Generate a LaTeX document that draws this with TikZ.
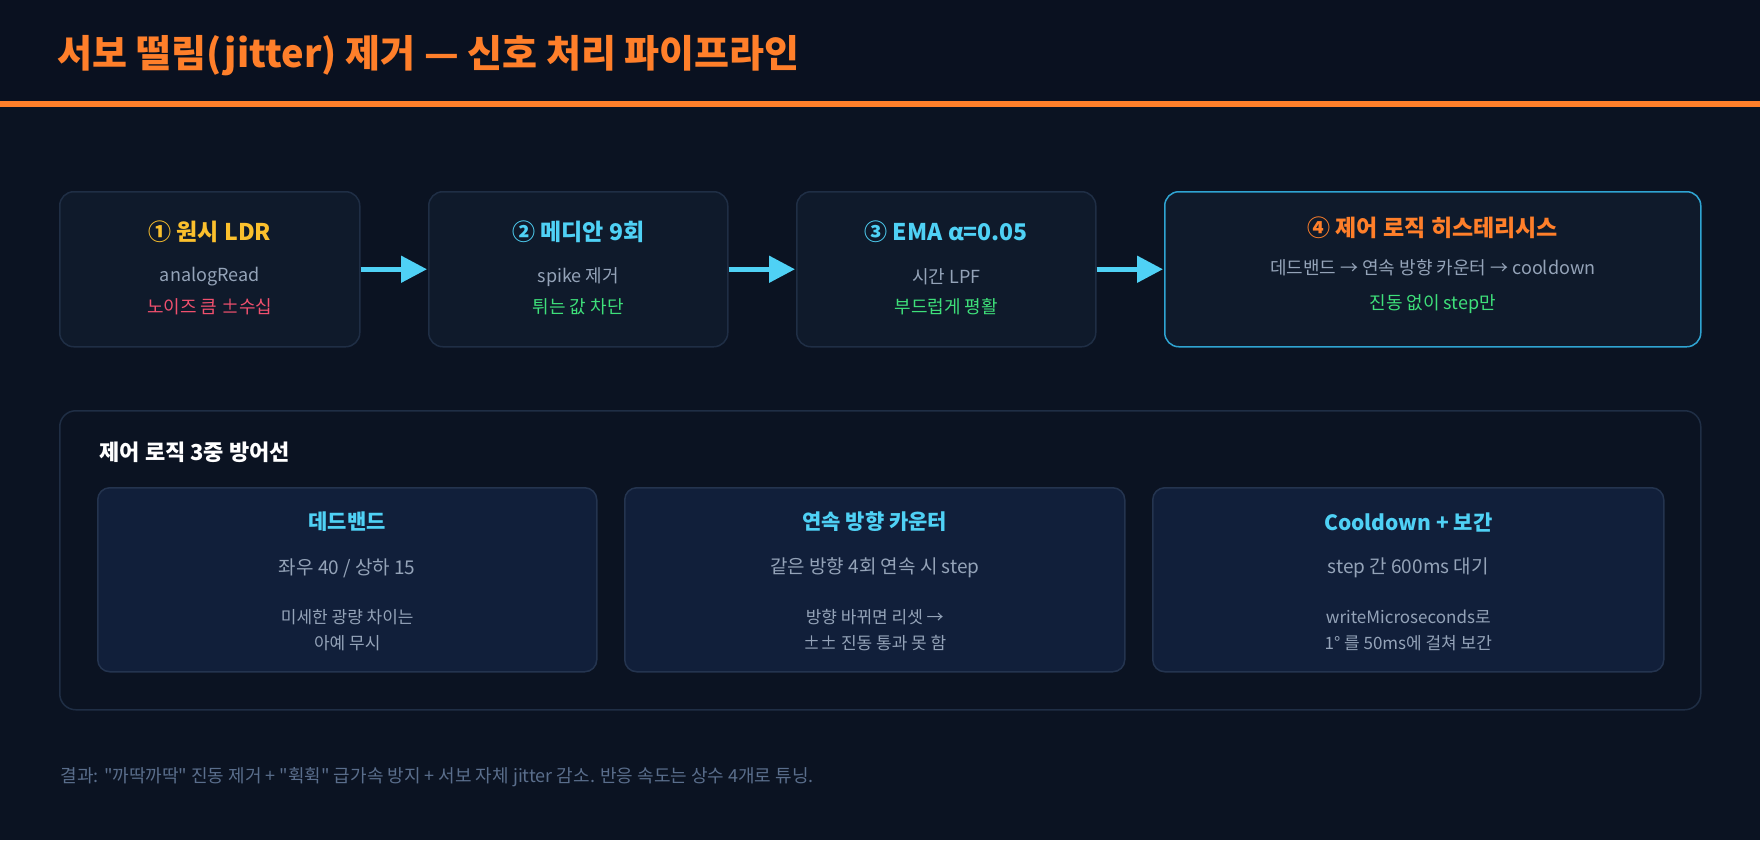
\documentclass[tikz,border=0pt]{standalone}
\usepackage{fontspec}
\setmainfont{Noto Sans CJK KR}
\usetikzlibrary{arrows.meta,positioning}
\definecolor{bgc}{HTML}{0B1322}
\definecolor{barc}{HTML}{0A1120}
\definecolor{orangec}{HTML}{FF7F2A}
\definecolor{boxf}{HTML}{0F1A2B}
\definecolor{boxd}{HTML}{1F2E45}
\definecolor{subf}{HTML}{111F3A}
\definecolor{subd}{HTML}{24344F}
\definecolor{cyanc}{HTML}{4FD1F5}
\definecolor{cyand}{HTML}{2FA4D2}
\definecolor{yelc}{HTML}{FBC02D}
\definecolor{redc}{HTML}{F0506E}
\definecolor{greenc}{HTML}{3EE07A}
\definecolor{grayc}{HTML}{94A3B8}
\definecolor{footc}{HTML}{5A6E8C}
\newcommand{\fs}[1]{\fontsize{#1}{#1}\selectfont}
\newcommand{\qq}{\XeTeXglyph\XeTeXcharglyph"22\relax}
\tikzset{
  stage/.style={draw=boxd,line width=1.5pt,fill=boxf,rounded corners=14pt,minimum height=155pt,anchor=north west,inner sep=0pt},
  sub/.style={draw=subd,line width=1.5pt,fill=subf,rounded corners=12pt,minimum height=184pt,anchor=north west,inner sep=0pt},
  head/.style={font=\fs{23}\bfseries},
  txt/.style={font=\fs{18},text=grayc},
  flow/.style={-{Triangle[length=26pt,width=26pt]},line width=5pt,draw=cyanc,shorten >=1pt}
}
\begin{document}
\begin{tikzpicture}[x=1pt,y=-1pt]
\fill[bgc] (0,0) rectangle (1760,840);
\fill[barc] (0,0) rectangle (1760,102);
\fill[orangec] (0,101) rectangle (1760,107);
\node[anchor=west,text=orangec,font=\fs{38}\bfseries] (title) at (54,56) {서보 떨림(jitter) 제거 — 신호 처리 파이프라인};

% pipeline
\node[stage,minimum width=300pt] (s1) at (59,191) {};
\node[stage,minimum width=299pt] (s2) at (428,191) {};
\node[stage,minimum width=299pt] (s3) at (796,191) {};
\node[stage,minimum width=536pt,draw=cyand] (s4) at (1164,191) {};
\draw[flow] (s1) -- (s2);
\draw[flow] (s2) -- (s3);
\draw[flow] (s3) -- (s4);

\node[head,text=yelc] (h1) at (s1.center |- 0,232) {① 원시 LDR};
\node[txt] (a1) at (s1.center |- 0,277) {analogRead};
\node[txt,text=redc] (b1) at (s1.center |- 0,307) {노이즈 큼 ±수십};
\node[head,text=cyanc] (h2) at (s2.center |- 0,232) {② 메디안 9회};
\node[txt] (a2) at (s2.center |- 0,277) {spike 제거};
\node[txt,text=greenc] (b2) at (s2.center |- 0,307) {튀는 값 차단};
\node[head,text=cyanc] (h3) at (s3.center |- 0,232) {③ EMA α=0.05};
\node[txt] (a3) at (s3.center |- 0,277) {시간 LPF};
\node[txt,text=greenc] (b3) at (s3.center |- 0,307) {부드럽게 평활};
\node[head,text=orangec] (h4) at (s4.center |- 0,228) {④ 제어 로직 히스테리시스};
\node[txt] (a4) at (s4.center |- 0,268) {데드밴드 → 연속 방향 카운터 → cooldown};
\node[txt,text=greenc] (b4) at (s4.center |- 0,304) {진동 없이 step만};

% defence panel
\node[draw=boxd,line width=1.5pt,fill=bgc,rounded corners=16pt,minimum width=1641pt,minimum height=299pt,anchor=north west] (panel) at (59,410) {};
\node[anchor=west,text=white,font=\fs{22}\bfseries] (ptitle) at (96,452) {제어 로직 3중 방어선};
\node[sub,minimum width=499pt] (d1) at (97,487) {};
\node[sub,minimum width=500pt] (d2) at (624,487) {};
\node[sub,minimum width=511pt] (d3) at (1152,487) {};
\foreach \n/\t/\l/\ma/\mb in {d1/데드밴드/{좌우 40 / 상하 15}/미세한 광량 차이는/아예 무시,
  d2/연속 방향 카운터/같은 방향 4회 연속 시 step/방향 바뀌면 리셋 →/±± 진동 통과 못 함,
  d3/Cooldown + 보간/step 간 600ms 대기/writeMicroseconds로/1° 를 50ms에 걸쳐 보간}{
  \node[text=cyanc,font=\fs{21}\bfseries] at (\n.center |- 0,522) {\t};
  \node[txt,font=\fs{19}] at (\n.center |- 0,568) {\l};
  \node[txt,font=\fs{17}] at (\n.center |- 0,617) {\ma};
  \node[txt,font=\fs{17}] at (\n.center |- 0,643) {\mb};
}
\node[anchor=west,text=footc,font=\fs{18}] (foot) at (57,777) {결과: \qq 까딱까딱\qq{} 진동 제거 + \qq 휙휙\qq{} 급가속 방지 + 서보 자체 jitter 감소. 반응 속도는 상수 4개로 튜닝.};
\end{tikzpicture}
\end{document}
